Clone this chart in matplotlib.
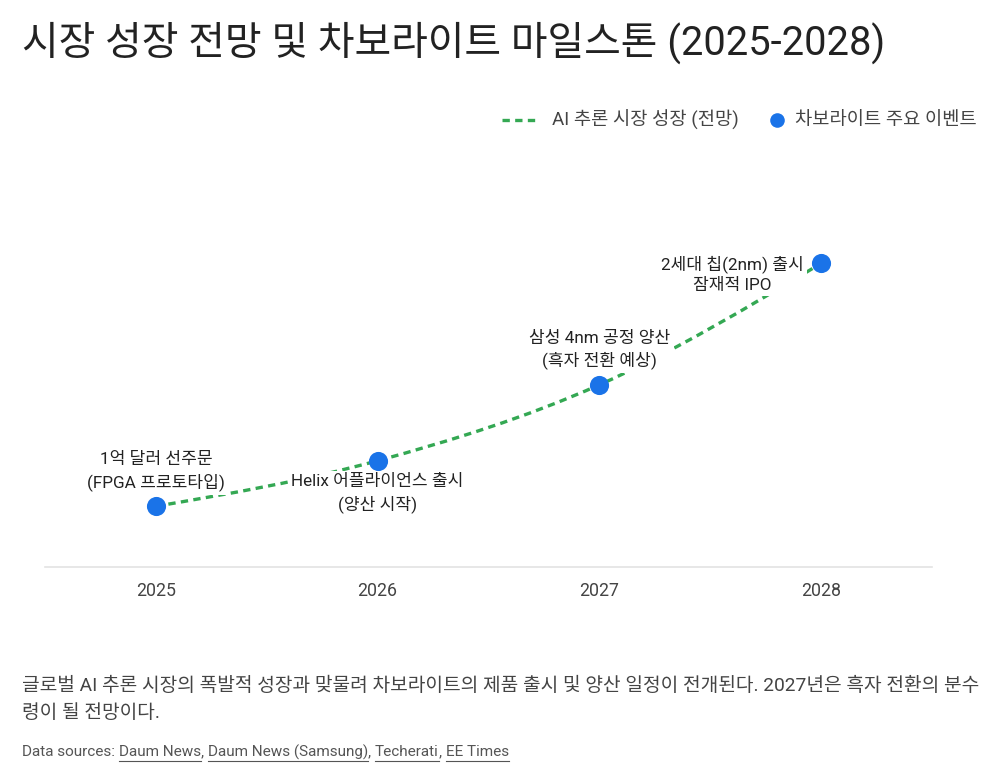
import matplotlib
matplotlib.use("Agg")
import matplotlib.pyplot as plt
import numpy as np
from matplotlib.path import Path
from matplotlib.patches import PathPatch
from matplotlib.lines import Line2D

plt.rcParams['font.family'] = ['Roboto', 'Noto Sans CJK KR', 'DejaVu Sans']

# ---- data ----
years = ["2025", "2026", "2027", "2028"]
market_growth = [20, 35, 60, 100]          # relative AI inference market size (forecast)
event_labels = [
    "1억 달러 선주문\n(FPGA 프로토타입)",
    "Helix 어플라이언스 출시\n(양산 시작)",
    "삼성 4nm 공정 양산\n(흑자 전환 예상)",
    "2세대 칩(2nm) 출시\n잠재적 IPO",
]
title = "시장 성장 전망 및 차보라이트 마일스톤 (2025-2028)"
legend_line = "AI 추론 시장 성장 (전망)"
legend_dot = "차보라이트 주요 이벤트"
caption_lines = [
    "글로벌 AI 추론 시장의 폭발적 성장과 맞물려 차보라이트의 제품 출시 및 양산 일정이 전개된다. 2027년은 흑자 전환의 분수",
    "령이 될 전망이다.",
]
source_prefix = "Data sources: "
sources = ["Daum News", "Daum News (Samsung)", "Techerati", "EE Times"]

GREEN = "#34a853"
BLUE = "#1a73e8"
TEXT = "#222222"
GREY = "#444444"
DASH = (0, (2.2, 1.6))

fig = plt.figure(figsize=(10, 7.83), dpi=100)
W, H = 1000, 783
ax_left, ax_right = 45, 932
base_y = 567
top_y = 233
ax = fig.add_axes([ax_left / W, 1 - base_y / H, (ax_right - ax_left) / W, (base_y - top_y) / H])
ax.set_xlim(-0.5, len(years) - 0.5)
ax.set_ylim(0, 110)
for s in ["top", "left", "right"]:
    ax.spines[s].set_visible(False)
ax.spines["bottom"].set_color("#e3e3e3")
ax.spines["bottom"].set_linewidth(1.2)
ax.set_yticks([])
ax.set_xticks(range(len(years)))
ax.set_xticklabels(years, fontsize=12.8, color=GREY)
ax.tick_params(axis="x", length=0, pad=11)

# ---- smooth monotone curve (bezier path through data points) ----
xs = np.arange(len(years), dtype=float)
ys = np.array(market_growth, dtype=float)
h = np.diff(xs)
s = np.diff(ys) / h
t = np.zeros(len(xs))
for i in range(1, len(xs) - 1):
    p = (s[i - 1] * h[i] + s[i] * h[i - 1]) / (h[i - 1] + h[i])
    t[i] = (np.sign(s[i - 1]) + np.sign(s[i])) * min(abs(s[i - 1]), abs(s[i]), 0.5 * abs(p))
t[0] = (3 * s[0] - t[1]) / 2
t[-1] = (3 * s[-1] - t[-2]) / 2
verts = [(xs[0], ys[0])]
codes = [Path.MOVETO]
for i in range(len(xs) - 1):
    dx = h[i] / 3
    verts += [(xs[i] + dx, ys[i] + dx * t[i]), (xs[i + 1] - dx, ys[i + 1] - dx * t[i + 1]), (xs[i + 1], ys[i + 1])]
    codes += [Path.CURVE4] * 3
curve = PathPatch(Path(verts, codes), facecolor="none", edgecolor=GREEN, lw=2.4,
                  linestyle=DASH, zorder=2, capstyle="butt")
ax.add_patch(curve)

ax.scatter(xs, ys, s=190, color=BLUE, zorder=3, linewidths=0)

# ---- event labels ----
offsets = [(0, 25), (0, -23.5), (0, 25), (-64, -7.5)]  # points
for i, (lab, off) in enumerate(zip(event_labels, offsets)):
    ax.annotate(lab, (xs[i], ys[i]), xytext=off, textcoords="offset points",
                ha="center", va="center", fontsize=12.3, color=TEXT, linespacing=1.4,
                zorder=4,
                bbox=dict(boxstyle="square,pad=0.22", facecolor="white", edgecolor="none"))

# ---- title ----
fig.text(22 / W, 1 - 43 / H, title, fontsize=28.7, color=TEXT, va="center", ha="left")

# ---- legend (drawn manually) ----
ly = 1 - 120 / H
fig.add_artist(Line2D([502 / W, 540 / W], [ly, ly], color=GREEN, lw=2.4, linestyle=DASH))
fig.text(552 / W, ly, legend_line, fontsize=13.5, color=GREY, va="center", ha="left")
fig.add_artist(Line2D([777 / W], [ly], color=BLUE, marker="o", linestyle="none", markersize=10.5,
                      markeredgewidth=0))
fig.text(795 / W, ly, legend_dot, fontsize=13.5, color=GREY, va="center", ha="left")

# ---- caption ----
for k, line in enumerate(caption_lines):
    fig.text(22 / W, 1 - (686 + 27 * k) / H, line, fontsize=13.8, color=GREY, va="center", ha="left")

# ---- data sources with underlined links ----
fig.canvas.draw()
renderer = fig.canvas.get_renderer()
x_px = 22
y_src = 1 - 752 / H
pieces = [(source_prefix, False)]
for j, src in enumerate(sources):
    pieces.append((src, True))
    if j < len(sources) - 1:
        pieces.append((", ", False))
for txt, link in pieces:
    tt = fig.text(x_px / W, y_src, txt, fontsize=11, color="#555555", va="center", ha="left")
    bb = tt.get_window_extent(renderer)
    if link:
        y_line = 1 - 761 / H
        fig.add_artist(Line2D([bb.x0 / W, bb.x1 / W], [y_line, y_line], color="#555555", lw=0.8))
    x_px += bb.width

fig.savefig("out.png", dpi=100, facecolor="white")
